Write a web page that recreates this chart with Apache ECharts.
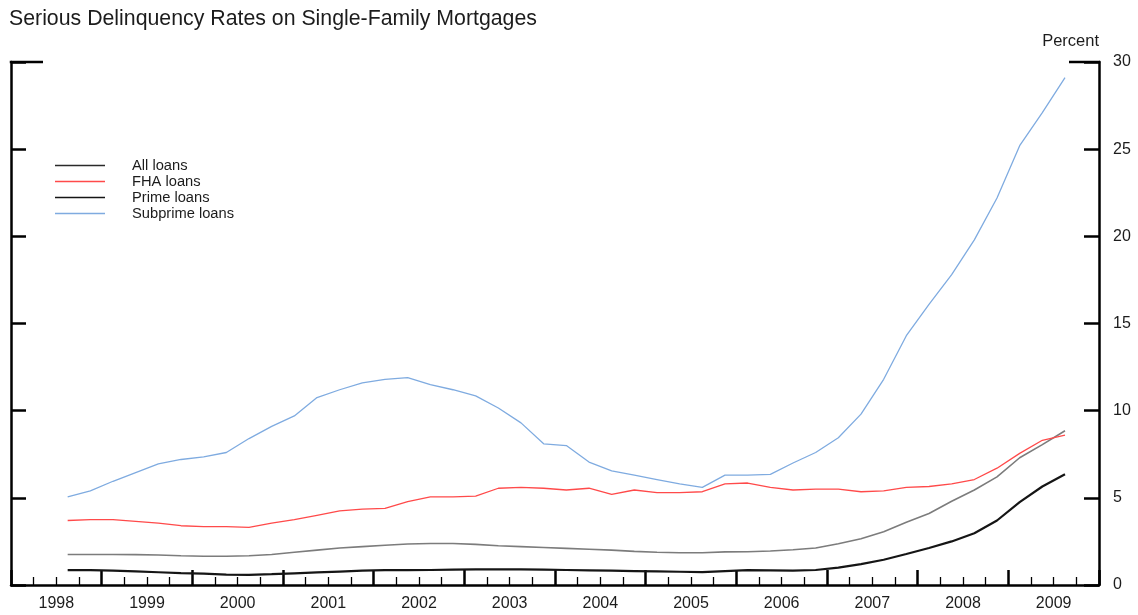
<!DOCTYPE html>
<html>
<head>
<meta charset="utf-8">
<title>Serious Delinquency Rates on Single-Family Mortgages</title>
<script src="https://cdn.jsdelivr.net/npm/echarts@6/dist/echarts.min.js"></script>
<style>
  html, body { margin: 0; padding: 0; background: #fff; }
  #chart { width: 1138px; height: 615px; }
</style>
</head>
<body>
<div id="chart"></div>
<script>
var quarters = [
  '1998Q3', '1998Q4',
  '1999Q1', '1999Q2', '1999Q3', '1999Q4',
  '2000Q1', '2000Q2', '2000Q3', '2000Q4',
  '2001Q1', '2001Q2', '2001Q3', '2001Q4',
  '2002Q1', '2002Q2', '2002Q3', '2002Q4',
  '2003Q1', '2003Q2', '2003Q3', '2003Q4',
  '2004Q1', '2004Q2', '2004Q3', '2004Q4',
  '2005Q1', '2005Q2', '2005Q3', '2005Q4',
  '2006Q1', '2006Q2', '2006Q3', '2006Q4',
  '2007Q1', '2007Q2', '2007Q3', '2007Q4',
  '2008Q1', '2008Q2', '2008Q3', '2008Q4',
  '2009Q1', '2009Q2', '2009Q3'
]
var years = ['1998', '1999', '2000', '2001', '2002', '2003', '2004', '2005', '2006', '2007', '2008', '2009']

var allLoans = [1.75, 1.75, 1.75, 1.74, 1.72, 1.68, 1.65, 1.65, 1.68, 1.75,
  1.88, 2.0, 2.12, 2.2, 2.28, 2.35, 2.38, 2.38, 2.33, 2.25,
  2.2, 2.15, 2.1, 2.05, 2.0, 1.93, 1.88, 1.85, 1.85, 1.9,
  1.91, 1.95, 2.02, 2.12, 2.37, 2.65, 3.05, 3.6, 4.1, 4.8,
  5.45, 6.2, 7.3, 8.05, 8.85]
var fhaLoans = [3.7, 3.75, 3.75, 3.65, 3.55, 3.4, 3.35, 3.35, 3.3, 3.55,
  3.75, 4.0, 4.25, 4.35, 4.4, 4.78, 5.05, 5.05, 5.1, 5.55,
  5.6, 5.55, 5.45, 5.55, 5.2, 5.45, 5.3, 5.3, 5.35, 5.8,
  5.85, 5.6, 5.45, 5.5, 5.5, 5.35, 5.4, 5.6, 5.65, 5.8,
  6.05, 6.7, 7.55, 8.3, 8.6]
var primeLoans = [0.85, 0.85, 0.83, 0.78, 0.73, 0.68, 0.65, 0.6, 0.58, 0.62,
  0.67, 0.72, 0.77, 0.82, 0.85, 0.85, 0.86, 0.88, 0.9, 0.9,
  0.9, 0.88, 0.86, 0.84, 0.82, 0.8, 0.78, 0.76, 0.74, 0.8,
  0.85, 0.84, 0.83, 0.86, 1.0, 1.2, 1.45, 1.78, 2.12, 2.5,
  2.97, 3.7, 4.75, 5.65, 6.35]
var subprimeLoans = [5.05, 5.4, 5.95, 6.45, 6.95, 7.2, 7.35, 7.6, 8.4, 9.1,
  9.7, 10.75, 11.2, 11.6, 11.8, 11.9, 11.5, 11.2, 10.85, 10.15,
  9.3, 8.1, 8.0, 7.05, 6.55, 6.3, 6.05, 5.8, 5.6, 6.3,
  6.3, 6.35, 7.0, 7.6, 8.45, 9.8, 11.8, 14.3, 16.1, 17.8,
  19.8, 22.2, 25.2, 27.1, 29.1]

var FONT = '"Liberation Sans", Arial, sans-serif'
var INK = '#1c1c1c'

// '2001Q3' -> middle of that quarter as a decimal year
function qPos (q) {
  return +q.slice(0, 4) + (+q.slice(5) - 1) * 0.25 + 0.125
}
function pairs (vals) {
  return vals.map(function (v, i) { return [qPos(quarters[i]), v] })
}

var myChart = echarts.init(document.getElementById('chart'))

var yCommon = {
  type: 'value',
  min: 0,
  max: 30,
  interval: 5,
  splitLine: { show: false },
  axisLine: { show: true, lineStyle: { color: '#000', width: 2.5 } },
  axisTick: { show: true, inside: true, length: 15, lineStyle: { color: '#000', width: 2.5 } }
}

var option = {
  animation: false,
  backgroundColor: '#fff',
  title: {
    text: 'Serious Delinquency Rates on Single-Family Mortgages',
    left: 4,
    top: 4,
    textStyle: { fontFamily: FONT, fontSize: 21.3, fontWeight: 'normal', color: INK }
  },
  legend: {
    orient: 'vertical',
    left: 50,
    top: 153,
    itemWidth: 50,
    itemHeight: 1.5,
    itemGap: 1,
    icon: 'rect',
    data: [
      { name: 'All loans', itemStyle: { color: '#2a2a2a' } },
      { name: 'FHA loans' },
      { name: 'Prime loans' },
      { name: 'Subprime loans' }
    ],
    textStyle: { fontFamily: FONT, fontSize: 14.7, lineHeight: 14, color: INK, padding: [0, 0, 0, 22] }
  },
  grid: { left: 11, right: 39, top: 62, bottom: 30, containLabel: false },
  xAxis: [
    {
      type: 'value',
      min: 1998,
      max: 2010,
      interval: 1,
      splitLine: { show: false },
      axisLabel: { show: false },
      axisLine: { show: true, onZero: false, lineStyle: { color: '#000', width: 2.5 } },
      axisTick: { show: true, inside: true, length: 15, lineStyle: { color: '#000', width: 2.5 } },
      minorTick: { show: true, splitNumber: 4, length: 8, lineStyle: { color: '#000', width: 1.3 } }
    },
    {
      type: 'category',
      position: 'bottom',
      data: years,
      boundaryGap: true,
      axisLine: { show: false },
      axisTick: { show: false },
      axisLabel: { margin: 11, fontFamily: FONT, fontSize: 16, color: INK }
    }
  ],
  yAxis: [
    Object.assign({}, yCommon, {
      position: 'left',
      axisLabel: { show: false }
    }),
    Object.assign({}, yCommon, {
      position: 'right',
      name: 'Percent',
      nameLocation: 'end',
      nameGap: 12,
      nameTextStyle: { fontFamily: FONT, fontSize: 16.5, color: INK, align: 'right', padding: [0, 0, 0, 0] },
      axisLabel: { margin: 14, fontFamily: FONT, fontSize: 16, color: INK }
    })
  ],
  series: [
    {
      name: 'All loans',
      type: 'line',
      yAxisIndex: 1,
      symbol: 'none',
      data: pairs(allLoans),
      color: '#7c7c7c',
      lineStyle: { width: 1.6 }
    },
    {
      name: 'FHA loans',
      type: 'line',
      yAxisIndex: 1,
      symbol: 'none',
      data: pairs(fhaLoans),
      color: '#ff4a4a',
      lineStyle: { width: 1.3 }
    },
    {
      name: 'Prime loans',
      type: 'line',
      yAxisIndex: 1,
      symbol: 'none',
      data: pairs(primeLoans),
      color: '#151515',
      lineStyle: { width: 2.2 }
    },
    {
      name: 'Subprime loans',
      type: 'line',
      yAxisIndex: 1,
      symbol: 'none',
      data: pairs(subprimeLoans),
      color: '#7fabe0',
      lineStyle: { width: 1.3 }
    }
  ]
}
myChart.setOption(option)

// longer corner ticks at the top of both vertical axes
var topLeft = myChart.convertToPixel({ xAxisIndex: 0, yAxisIndex: 1 }, [1998, 30])
var topRight = myChart.convertToPixel({ xAxisIndex: 0, yAxisIndex: 1 }, [2010, 30])
myChart.setOption({
  graphic: [
    { type: 'line', shape: { x1: topLeft[0] - 1.25, y1: topLeft[1], x2: topLeft[0] + 32, y2: topLeft[1] }, style: { stroke: '#000', lineWidth: 2.5 } },
    { type: 'line', shape: { x1: topRight[0] - 30, y1: topRight[1], x2: topRight[0] + 1.25, y2: topRight[1] }, style: { stroke: '#000', lineWidth: 2.5 } }
  ]
})
</script>
</body>
</html>
